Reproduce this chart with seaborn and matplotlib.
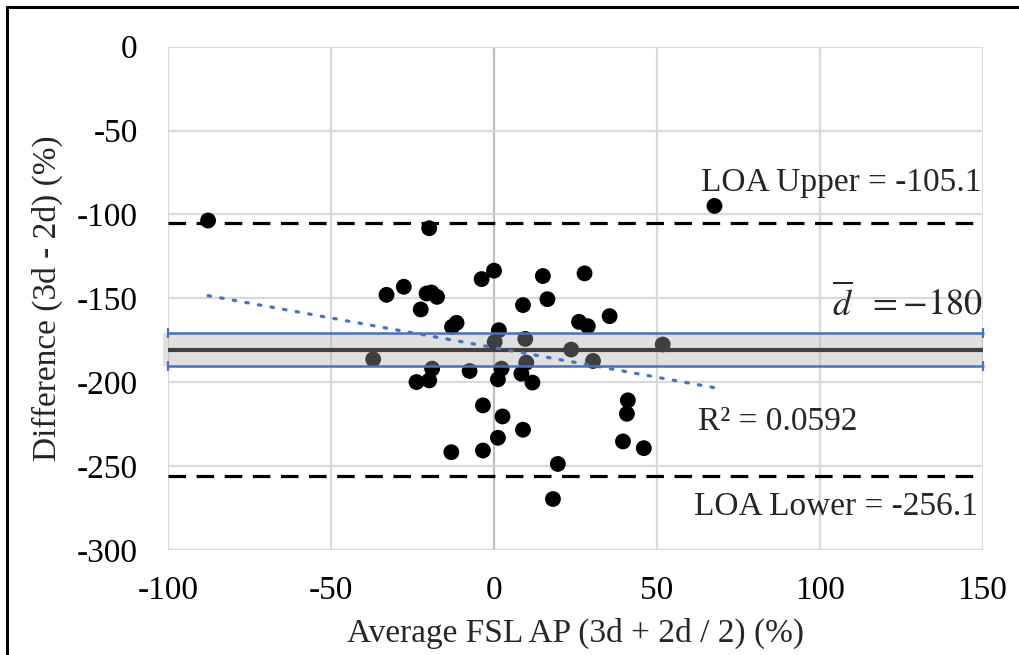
import numpy as np
import pandas as pd
import matplotlib
matplotlib.use("Agg")
import matplotlib.pyplot as plt
from matplotlib.lines import Line2D
import seaborn as sns

# Bland-Altman data
avg_fsl = [-87.8, -19.9, 0.0, -3.8, -27.7, -33.0, -20.7, -19.2, -17.5, -22.5,
           -11.5, -12.9, 1.5, 0.2, -37.1, -19.0, -7.5, 2.3, 1.2, -23.8,
           -19.9, -3.4, 2.6, 1.2, -13.1, -3.4, 15.0, 27.8, 16.4, 8.9,
           35.5, 26.1, 28.8, 9.6, 23.7, 51.8, 30.4, 9.9, 8.4, 11.8,
           8.9, 41.1, 40.8, 39.6, 46.0, 19.6, 18.1, 67.7]
diff = [-103.6, -108.2, -133.5, -138.5, -143.1, -147.9, -147.1, -146.5, -149.1, -156.6,
        -164.6, -167.0, -169.0, -176.0, -186.3, -191.9, -193.3, -191.9, -198.3, -199.9,
        -198.9, -213.8, -220.4, -233.1, -241.7, -240.7, -136.7, -135.1, -150.5, -154.0,
        -160.6, -164.0, -166.6, -174.2, -180.5, -177.5, -187.3, -188.3, -194.9, -200.2,
        -228.3, -210.8, -218.8, -235.3, -239.3, -248.7, -269.6, -94.9]

mean_diff = -180.6
loa_upper = -105.1
loa_lower = -256.1
ci_upper = -170.6
ci_lower = -190.6

x_ticks = [-100, -50, 0, 50, 100, 150]
y_ticks = [0, -50, -100, -150, -200, -250, -300]

df = pd.DataFrame({"avg": avg_fsl, "diff": diff})

sns.set_theme(style="white")
plt.rcParams["font.family"] = ["Liberation Serif", "DejaVu Serif"]
plt.rcParams["mathtext.fontset"] = "stix"
plt.rcParams["axes.unicode_minus"] = False

FS = 24

fig = plt.figure(figsize=(10.19, 6.55), dpi=100)
ax = fig.add_axes([0.1652, 0.1603, 0.9642 - 0.1652, 0.9287 - 0.1603])

grid_c = "#d9d9d9"
for xv in x_ticks:
    ax.axvline(xv, color="#bfbfbf" if xv == 0 else grid_c, lw=1.6, zorder=0)
for yv in y_ticks:
    ax.axhline(yv, color=grid_c, lw=1.6, zorder=0)

sns.scatterplot(data=df, x="avg", y="diff", color="black", s=130,
                edgecolor="none", ax=ax, zorder=2, clip_on=False)

# confidence band around the mean (drawn over the points)
ax.fill_between([-101.5, 150], ci_lower, ci_upper, color="#acacac",
                alpha=0.37, lw=0, zorder=3, clip_on=False)
ax.axhline(mean_diff, color="#404040", lw=3.0, zorder=4)
for yv in (ci_upper, ci_lower):
    ax.plot([-100, 150], [yv, yv], color="#4472C4", lw=1.8, marker="|",
            markersize=7, markeredgewidth=1.6, zorder=4, clip_on=False)

for yv in (loa_upper, loa_lower):
    ax.axhline(yv, color="black", lw=2.3, linestyle=(0, (5.5, 3.3)), zorder=4)

sns.regplot(data=df, x="avg", y="diff", scatter=False, ci=None, truncate=True,
            ax=ax, line_kws=dict(color="#4472C4", lw=2.3, linestyle=(0, (0.8, 3.2)),
                                 dash_capstyle="round", zorder=5))

ax.text(149.5, -81, "LOA Upper = -105.1", ha="right", va="center", fontsize=FS)
ax.text(148.5, -274.5, "LOA Lower = -256.1", ha="right", va="center", fontsize=FS)
ax.text(150, -153, r"$\overline{d}\ \ = -180$", ha="right", va="center", fontsize=26)
ax.text(62.5, -223.8, "R² = 0.0592", ha="left", va="center", fontsize=FS)

ax.set_xlim(-100, 150)
ax.set_ylim(-300, 0)
ax.set_xticks(x_ticks)
ax.set_yticks(y_ticks)
ax.tick_params(axis="both", length=0, labelsize=FS, colors="black")
ax.tick_params(axis="y", pad=22)
ax.tick_params(axis="x", pad=18)
for sp in ax.spines.values():
    sp.set_visible(False)

ax.set_xlabel("Average FSL AP (3d + 2d / 2) (%)", fontsize=FS, labelpad=9)
ax.set_ylabel("Difference (3d - 2d) (%)", fontsize=FS, labelpad=10)

# outer frame (only left and top edges fall inside the image)
fig.add_artist(Line2D([7 / 1019, 7 / 1019], [0, 1 - 7 / 655], color="black",
                      lw=2.2, transform=fig.transFigure))
fig.add_artist(Line2D([7 / 1019, 1], [1 - 7 / 655, 1 - 7 / 655], color="black",
                      lw=2.2, transform=fig.transFigure))

fig.savefig("out.png", dpi=100)
plt.close(fig)
